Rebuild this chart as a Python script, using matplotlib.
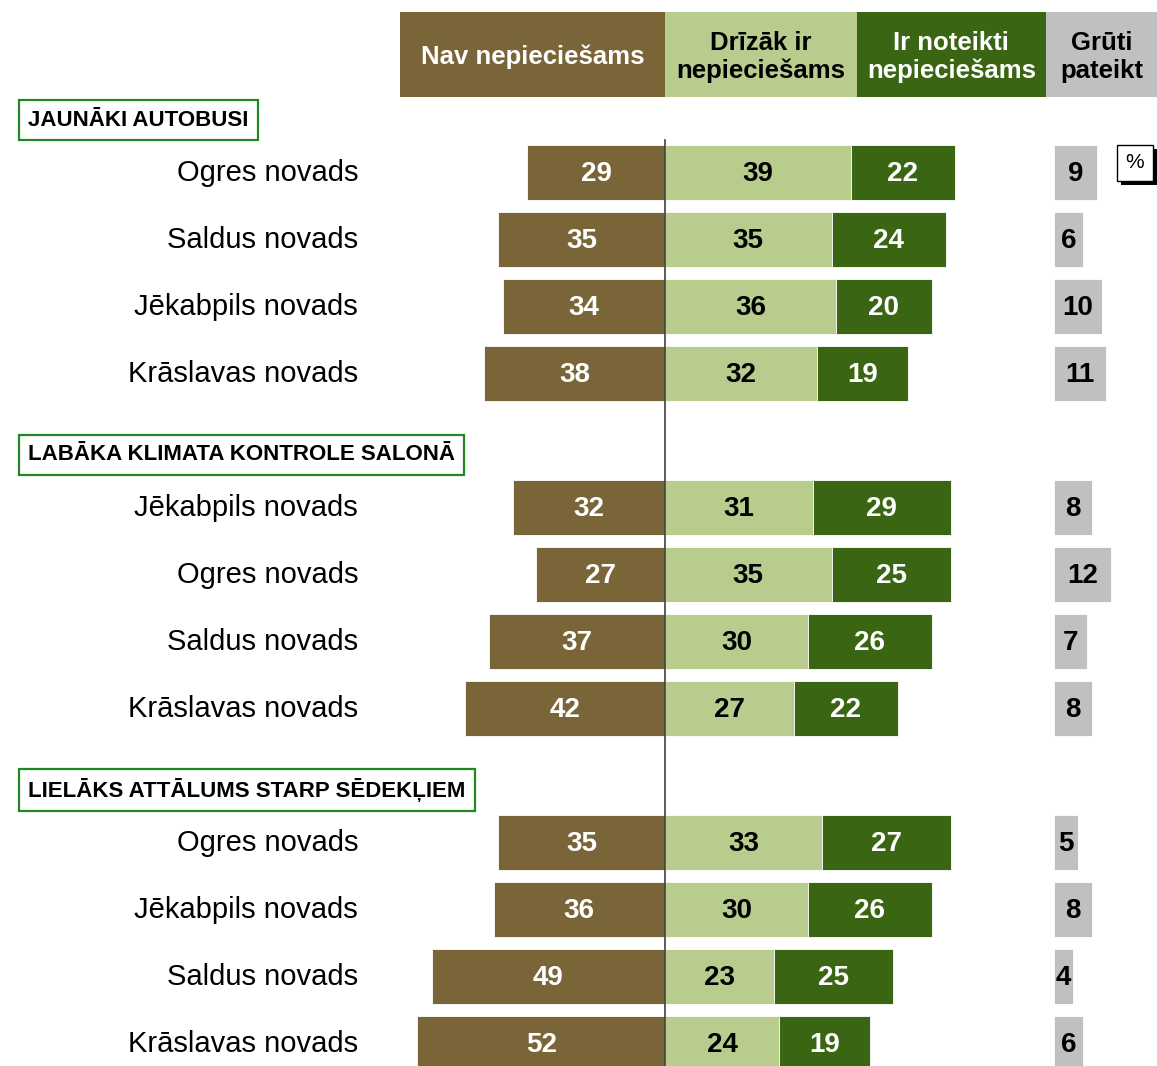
import matplotlib
matplotlib.use('Agg')
from matplotlib import pyplot as plt
from matplotlib.patches import Rectangle

plt.rcParams['font.family'] = ['Liberation Sans', 'DejaVu Sans']

groups = ['JAUNĀKI AUTOBUSI', 'LABĀKA KLIMATA KONTROLE SALONĀ', 'LIELĀKS ATTĀLUMS STARP SĒDEKĻIEM']
regions = [
    ['Ogres novads', 'Saldus novads', 'Jēkabpils novads', 'Krāslavas novads'],
    ['Jēkabpils novads', 'Ogres novads', 'Saldus novads', 'Krāslavas novads'],
    ['Ogres novads', 'Jēkabpils novads', 'Saldus novads', 'Krāslavas novads'],
]
nav = [[29, 35, 34, 38], [32, 27, 37, 42], [35, 36, 49, 52]]
drizak = [[39, 35, 36, 32], [31, 35, 30, 27], [33, 30, 23, 24]]
noteikti = [[22, 24, 20, 19], [29, 25, 26, 22], [27, 26, 25, 19]]
gruti = [[9, 6, 10, 11], [8, 12, 7, 8], [5, 8, 4, 6]]
headers = ['Nav nepiecie\u0161ams', 'Drīzāk ir\nnepiecie\u0161ams', 'Ir noteikti\nnepiecie\u0161ams', 'Grūti\npateikt']

c_nav = '#7a6539'
c_dri = '#b8cc8e'
c_not = '#3a6614'
c_gru = '#c0c0c0'

W, H = 1157, 1066
px = 4.76          # pixels per percent
x0 = 665           # centre line in pixels
fig = plt.figure(figsize=(W / 100, H / 100), dpi=100)
ax = fig.add_axes([0, 0, 1, 1])
ax.set_xlim(-x0 / px, (W - x0) / px)
ax.set_ylim(H, 0)
ax.axis('off')

gx = (1054 - x0) / px   # start of "grūti pateikt" bars
bh = 55
row_step = 67
first_row = 172

# header boxes
hdr_edges = [(400 - x0) / px, 0, 40.3, 80, (W - x0) / px]
hdr_cols = [c_nav, c_dri, c_not, c_gru]
hdr_txt = ['white', 'black', 'white', 'black']
for i in range(4):
    ax.add_patch(Rectangle((hdr_edges[i], 12), hdr_edges[i + 1] - hdr_edges[i], 85,
                           fc=hdr_cols[i], ec='none'))
    ax.text((hdr_edges[i] + hdr_edges[i + 1]) / 2, 57, headers[i], ha='center', va='center',
            fontsize=18.5, fontweight='bold', color=hdr_txt[i], linespacing=1.2)

ax.plot([0, 0], [140, H], color='#404040', lw=1.2, zorder=5)

for g in range(3):
    g_first = first_row + g * 5 * row_step
    ax.text((28 - x0) / px, g_first - 52, groups[g], ha='left', va='center',
            fontsize=16, fontweight='bold', family=['Liberation Sans Narrow', 'Liberation Sans'],
            bbox=dict(boxstyle='square,pad=0.42', fc='white', ec='#1f8a1f', lw=1.6))
    for r in range(4):
        y = g_first + r * row_step
        a, b, c, d = nav[g][r], drizak[g][r], noteikti[g][r], gruti[g][r]
        ax.barh(y, -a, height=bh, color=c_nav, edgecolor='white', lw=0.6)
        ax.barh(y, b, height=bh, color=c_dri, edgecolor='white', lw=0.6)
        ax.barh(y, c, left=b, height=bh, color=c_not, edgecolor='white', lw=0.6)
        ax.barh(y, d, left=gx, height=bh, color=c_gru, edgecolor='white', lw=0.6)
        kw = dict(ha='center', va='center', fontsize=20, fontweight='bold')
        ax.text(-a / 2, y + 2, str(a), color='white', **kw)
        ax.text(b / 2, y + 2, str(b), color='black', **kw)
        ax.text(b + c / 2, y + 2, str(c), color='white', **kw)
        ax.text(gx + d / 2, y + 2, str(d), color='black', **kw)
        ax.text((358 - x0) / px, y + 1, regions[g][r], ha='right', va='center', fontsize=21)

# "%" box with shadow
bx, by = (1117 - x0) / px, 145
ax.add_patch(Rectangle((bx + 4 / px, by + 4), 36 / px, 36, fc='black', ec='none', zorder=6))
ax.add_patch(Rectangle((bx, by), 36 / px, 36, fc='white', ec='black', lw=1, zorder=7))
ax.text(bx + 18 / px, by + 17, '%', ha='center', va='center', fontsize=15, zorder=8)

fig.savefig('out.png', dpi=100)
